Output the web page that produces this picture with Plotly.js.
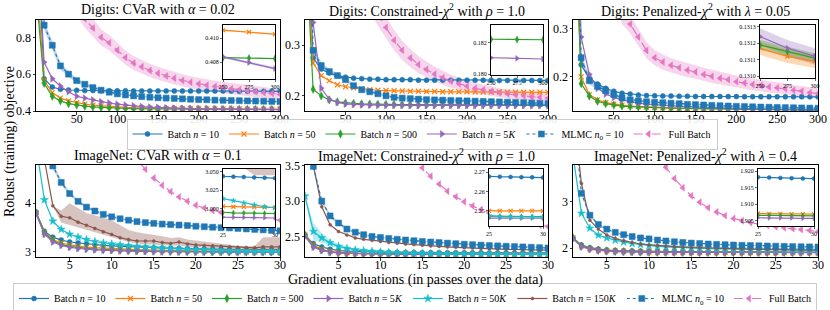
<!DOCTYPE html>
<html><head><meta charset="utf-8">
<script src="https://cdn.plot.ly/plotly-3.0.1.min.js"></script>
<style>html,body{margin:0;padding:0;background:#fff}#chart{width:830px;height:310px}</style>
</head><body><div id="chart"></div>
<script>
// ---------------- DATA ----------------
const digitsX = [1,10,20,30,40,50,60,70,80,90,100,110,120,130,140,150,160,170,180,190,200,210,220,230,240,250,260,270,280,290,300];
const imagenetX = [1,2,3,4,5,6,7,8,9,10,11,12,13,14,15,16,17,18,19,20,21,22,23,24,25,26,27,28,29,30];
const digitsInsetX = [250,275,300];

// Digits: CVaR alpha=0.02
const cvarD_n10 = [1.4,0.575,0.53,0.518,0.514,0.512,0.511,0.511,0.510,0.510,0.510,0.510,0.509,0.509,0.509,0.509,0.509,0.509,0.508,0.508,0.508,0.508,0.508,0.508,0.508,0.507,0.507,0.507,0.507,0.507,0.507];
const cvarD_n50 = [1.1,0.565,0.5,0.47,0.455,0.445,0.437,0.432,0.428,0.425,0.422,0.42,0.418,0.417,0.416,0.415,0.414,0.4135,0.413,0.4125,0.412,0.4117,0.4114,0.4112,0.411,0.4107,0.4105,0.4104,0.4103,0.4102,0.4101];
const cvarD_n500 = [1.0,0.55,0.48,0.455,0.44,0.432,0.426,0.422,0.419,0.417,0.415,0.4138,0.4128,0.412,0.4113,0.4107,0.4102,0.4098,0.4095,0.4092,0.409,0.4088,0.4087,0.4086,0.4085,0.4084,0.4084,0.4083,0.4083,0.4083,0.4082];
const cvarD_n5k = [1.4,0.665,0.575,0.535,0.505,0.48,0.47,0.46,0.45,0.443,0.437,0.432,0.428,0.424,0.421,0.419,0.417,0.415,0.414,0.413,0.412,0.4113,0.4106,0.41,0.4094,0.4088,0.4083,0.4081,0.4079,0.4077,0.4075];
const cvarD_mlmc = [2.0,0.866,0.757,0.645,0.6,0.565,0.545,0.527,0.513,0.502,0.493,0.487,0.482,0.478,0.475,0.472,0.47,0.468,0.466,0.464,0.462,0.461,0.459,0.458,0.457,0.456,0.455,0.454,0.453,0.452,0.451];
const cvarD_mlmcSd = [0.05,0.025,0.022,0.02,0.016,0.013,0.011,0.009,0.008,0.007,0.006,0.006,0.006,0.005,0.005,0.005,0.005,0.005,0.005,0.005,0.005,0.005,0.005,0.005,0.005,0.005,0.005,0.005,0.005,0.005,0.005];
const cvarD_full = [2.0,1.6,1.4,1.22,1.08,0.97,0.9,0.85,0.8,0.77,0.73,0.69,0.66,0.64,0.62,0.605,0.59,0.578,0.566,0.556,0.547,0.54,0.533,0.527,0.521,0.515,0.51,0.505,0.5,0.495,0.49];
const cvarD_fullSd = [0.1,0.08,0.07,0.06,0.055,0.05,0.048,0.046,0.044,0.042,0.04,0.039,0.038,0.037,0.036,0.035,0.034,0.034,0.033,0.033,0.032,0.032,0.031,0.031,0.03,0.03,0.03,0.03,0.03,0.03,0.03];
const cvarDIn_n50 = [0.41067,0.41052,0.41033];
const cvarDIn_n500 = [0.40838,0.40834,0.4083];
const cvarDIn_n5k = [0.40844,0.40797,0.40747];
const cvarDIn_n50Sd = [0.00006,0.00006,0.00006];
const cvarDIn_n500Sd = [0.00004,0.00004,0.00004];
const cvarDIn_n5kSd = [0.00012,0.0001,0.0001];

// Digits: Constrained chi2 rho=1.0
const chiD_n10 = [0.6,0.275,0.253,0.245,0.24,0.237,0.235,0.234,0.233,0.233,0.232,0.232,0.232,0.232,0.231,0.231,0.231,0.231,0.231,0.231,0.231,0.231,0.231,0.231,0.2305,0.2305,0.2305,0.2305,0.2305,0.2305,0.2305];
const chiD_n50 = [0.5,0.265,0.24,0.23,0.222,0.218,0.216,0.214,0.212,0.211,0.2105,0.21,0.2095,0.209,0.209,0.2085,0.2085,0.208,0.208,0.208,0.208,0.2075,0.2075,0.2075,0.2075,0.207,0.207,0.207,0.207,0.207,0.207];
const chiD_n500 = [0.5,0.213,0.2,0.192,0.188,0.186,0.185,0.184,0.1835,0.1832,0.183,0.1828,0.1826,0.1825,0.1824,0.1823,0.1823,0.1822,0.1822,0.1822,0.1822,0.1822,0.1822,0.1822,0.1822,0.1822,0.1822,0.1822,0.1822,0.1822,0.1822];
const chiD_n5k = [0.9,0.345,0.215,0.193,0.187,0.184,0.183,0.1822,0.1818,0.1815,0.1813,0.1812,0.1811,0.181,0.181,0.181,0.181,0.181,0.181,0.181,0.181,0.181,0.181,0.181,0.181,0.181,0.181,0.1809,0.1809,0.1809,0.1809];
const chiD_mlmc = [0.9,0.29,0.26,0.248,0.24,0.232,0.22,0.212,0.208,0.204,0.2,0.197,0.1955,0.1945,0.1935,0.1925,0.192,0.1915,0.191,0.1905,0.19,0.1895,0.189,0.1885,0.188,0.1875,0.187,0.1865,0.186,0.1855,0.185];
const chiD_mlmcSd = [0.02,0.008,0.006,0.005,0.004,0.004,0.003,0.003,0.003,0.003,0.002,0.002,0.002,0.002,0.002,0.002,0.002,0.002,0.002,0.002,0.002,0.002,0.002,0.002,0.002,0.002,0.002,0.002,0.002,0.002,0.002];
const chiD_full = [1.2,0.88,0.77,0.68,0.6,0.54,0.48,0.43,0.39,0.36,0.335,0.31,0.29,0.275,0.262,0.252,0.243,0.236,0.229,0.224,0.219,0.215,0.212,0.209,0.206,0.204,0.202,0.2,0.198,0.197,0.195];
const chiD_fullSd = [0.05,0.04,0.035,0.03,0.028,0.026,0.025,0.024,0.023,0.022,0.021,0.02,0.019,0.018,0.017,0.016,0.015,0.014,0.013,0.012,0.011,0.011,0.01,0.01,0.009,0.009,0.009,0.008,0.008,0.008,0.008];
const chiDIn_n500 = [0.18222,0.1822,0.18219];
const chiDIn_n5k = [0.18104,0.181,0.18096];

// Digits: Penalized chi2 lambda=0.05
const penD_n10 = [0.6,0.225,0.197,0.185,0.176,0.17,0.166,0.164,0.162,0.161,0.1605,0.16,0.16,0.1595,0.1595,0.159,0.159,0.159,0.159,0.1588,0.1588,0.1586,0.1586,0.1585,0.1585,0.1584,0.1584,0.1583,0.1583,0.1582,0.1582];
const penD_n50 = [0.6,0.2,0.163,0.152,0.146,0.143,0.141,0.139,0.138,0.137,0.136,0.1355,0.135,0.1345,0.134,0.1337,0.1334,0.1331,0.1328,0.1326,0.1324,0.1322,0.132,0.1318,0.1316,0.1315,0.1313,0.1312,0.1311,0.131,0.1309];
const penD_n500 = [0.6,0.186,0.16,0.149,0.144,0.141,0.139,0.138,0.137,0.136,0.1355,0.135,0.1345,0.134,0.1337,0.1334,0.1331,0.1328,0.1326,0.1324,0.1322,0.132,0.1318,0.1317,0.1316,0.1315,0.1314,0.1313,0.1312,0.1311,0.1311];
const penD_n5k = [0.8,0.283,0.205,0.176,0.164,0.157,0.152,0.148,0.145,0.143,0.1415,0.1405,0.1395,0.1385,0.1378,0.137,0.1363,0.1357,0.1351,0.1346,0.1341,0.1337,0.1333,0.133,0.1327,0.1324,0.1322,0.1319,0.1316,0.1314,0.1312];
const penD_mlmc = [0.8,0.24,0.192,0.18,0.171,0.163,0.156,0.152,0.15,0.148,0.147,0.146,0.145,0.144,0.1425,0.142,0.1413,0.1405,0.1398,0.1391,0.1385,0.138,0.1375,0.137,0.1366,0.1362,0.1358,0.1355,0.1351,0.1348,0.1345];
const penD_mlmcSd = [0.02,0.01,0.008,0.006,0.005,0.004,0.004,0.003,0.003,0.002,0.002,0.002,0.002,0.002,0.002,0.002,0.002,0.002,0.002,0.002,0.002,0.002,0.002,0.002,0.002,0.002,0.002,0.002,0.002,0.002,0.002];
const penD_full = [1.0,0.8,0.65,0.53,0.44,0.38,0.33,0.31,0.283,0.255,0.24,0.231,0.224,0.219,0.214,0.21,0.205,0.201,0.197,0.194,0.19,0.187,0.184,0.182,0.179,0.177,0.175,0.172,0.17,0.167,0.165];
const penD_fullSd = [0.05,0.04,0.035,0.03,0.025,0.022,0.02,0.019,0.018,0.017,0.016,0.016,0.015,0.015,0.015,0.014,0.014,0.014,0.013,0.013,0.013,0.012,0.012,0.012,0.012,0.011,0.011,0.011,0.011,0.011,0.011];
const penDIn_n50 = [0.13117,0.13112,0.13109];
const penDIn_n500 = [0.13119,0.13115,0.13111];
const penDIn_n5k = [0.13124,0.13117,0.13112];
const penDIn_n50Sd = [0.00004,0.00004,0.00004];
const penDIn_n500Sd = [0.00003,0.00003,0.00003];
const penDIn_n5kSd = [0.00005,0.00005,0.00005];

// ImageNet: CVaR alpha=0.1
const cvarI_n10 = [3.82,3.42,3.3,3.24,3.2,3.18,3.16,3.145,3.13,3.12,3.11,3.1,3.093,3.087,3.081,3.076,3.071,3.067,3.062,3.058,3.055,3.052,3.049,3.046,3.0435,3.043,3.0425,3.042,3.0415,3.041];
const cvarI_n50 = [3.8,3.4,3.25,3.18,3.14,3.11,3.095,3.082,3.072,3.064,3.057,3.05,3.044,3.039,3.034,3.03,3.026,3.022,3.019,3.016,3.013,3.011,3.009,3.006,3.0035,3.003,3.0028,3.0025,3.0022,3.002];
const cvarI_n500 = [3.8,3.38,3.23,3.15,3.11,3.085,3.068,3.055,3.045,3.037,3.03,3.025,3.02,3.016,3.012,3.009,3.006,3.004,3.002,3.0,2.999,2.998,2.997,2.996,2.995,2.9948,2.9946,2.9944,2.9942,2.994];
const cvarI_n5k = [3.78,3.36,3.2,3.13,3.09,3.066,3.05,3.038,3.029,3.022,3.016,3.011,3.007,3.004,3.001,2.999,2.997,2.995,2.994,2.993,2.992,2.991,2.99,2.99,2.989,2.9888,2.9886,2.9884,2.9882,2.988];
const cvarI_n50k = [5.2,4.07,3.63,3.46,3.36,3.3,3.25,3.21,3.18,3.16,3.14,3.125,3.11,3.097,3.085,3.074,3.064,3.055,3.047,3.04,3.034,3.028,3.023,3.018,3.0137,3.011,3.008,3.0055,3.003,3.0013];
const cvarI_n150k = [6.0,4.9,3.95,3.73,3.7,3.61,3.545,3.48,3.41,3.355,3.29,3.25,3.22,3.22,3.22,3.19,3.17,3.2,3.16,3.14,3.13,3.12,3.11,3.1,3.09,3.085,3.08,3.1,3.1,3.1];
const cvarI_n150kLo = [6.0,4.9,3.95,3.6,3.55,3.5,3.45,3.4,3.35,3.3,3.25,3.2,3.17,3.15,3.15,3.13,3.12,3.13,3.1,3.09,3.08,3.07,3.06,3.055,3.06,3.06,3.055,3.045,3.045,3.045];
const cvarI_n150kHi = [6.0,4.9,3.95,3.85,4.0,3.9,3.8,3.75,3.7,3.65,3.55,3.45,3.4,3.38,3.35,3.32,3.28,3.3,3.25,3.22,3.2,3.18,3.16,3.14,3.12,3.11,3.12,3.3,3.3,3.3];
const cvarI_mlmc = [6.5,5.3,4.77,4.43,4.2,4.04,3.92,3.84,3.77,3.72,3.68,3.65,3.62,3.6,3.585,3.57,3.56,3.55,3.54,3.525,3.515,3.505,3.495,3.49,3.48,3.47,3.46,3.45,3.44,3.43];
const cvarI_mlmcSd = [0.1,0.08,0.06,0.05,0.04,0.035,0.03,0.03,0.025,0.025,0.02,0.02,0.02,0.02,0.02,0.02,0.02,0.02,0.02,0.02,0.02,0.02,0.02,0.02,0.02,0.02,0.02,0.02,0.02,0.02];
const cvarI_full = [9.5,9.0,8.5,8.0,7.5,7.0,6.6,6.2,5.85,5.55,5.3,5.08,4.88,4.7,4.52,4.37,4.24,4.13,4.04,3.96,3.9,3.85,3.81,3.78,3.75,3.73,3.71,3.69,3.67,3.65];

// ImageNet: Constrained chi2 rho=1.0
const chiI_n10 = [2.52,2.4,2.35,2.32,2.3,2.292,2.286,2.282,2.279,2.277,2.275,2.274,2.273,2.272,2.271,2.2705,2.27,2.2697,2.2694,2.2691,2.2688,2.2685,2.2682,2.268,2.2677,2.2676,2.2675,2.2674,2.2673,2.2672];
const chiI_n50 = [2.52,2.38,2.32,2.29,2.278,2.27,2.265,2.262,2.26,2.258,2.2565,2.2555,2.2545,2.2538,2.2532,2.2527,2.2522,2.2518,2.2514,2.251,2.2507,2.2505,2.2503,2.2502,2.25,2.25,2.25,2.25,2.25,2.25];
const chiI_n500 = [2.52,2.36,2.31,2.28,2.27,2.263,2.259,2.256,2.254,2.2525,2.2515,2.2507,2.25,2.2495,2.249,2.2487,2.2484,2.2482,2.248,2.2478,2.2476,2.2475,2.2474,2.2473,2.2472,2.2472,2.2472,2.2471,2.2471,2.2471];
const chiI_n5k = [2.5,2.35,2.3,2.278,2.266,2.26,2.256,2.253,2.251,2.2495,2.2487,2.248,2.2476,2.2473,2.247,2.2468,2.2467,2.2466,2.2465,2.2464,2.2464,2.2463,2.2463,2.2463,2.2462,2.2462,2.2462,2.2462,2.2462,2.2462];
const chiI_n50k = [3.07,2.57,2.48,2.41,2.36,2.33,2.31,2.3,2.29,2.282,2.276,2.271,2.267,2.264,2.261,2.259,2.257,2.2555,2.254,2.253,2.252,2.251,2.25,2.249,2.2475,2.247,2.2469,2.2468,2.2468,2.2468];
const chiI_n50kSd = [0.02,0.12,0.07,0.04,0.03,0.02,0.015,0.01,0.008,0.006,0.003,0.003,0.003,0.003,0.003,0.003,0.003,0.003,0.003,0.003,0.003,0.003,0.003,0.003,0.003,0.003,0.003,0.003,0.003,0.003];
const chiI_n150k = [5.0,3.5,2.92,2.665,2.57,2.52,2.48,2.46,2.445,2.43,2.415,2.405,2.395,2.385,2.375,2.367,2.36,2.353,2.347,2.341,2.336,2.331,2.327,2.323,2.319,2.316,2.313,2.31,2.308,2.306];
const chiI_mlmc = [5.0,3.49,3.0,2.79,2.69,2.605,2.56,2.525,2.5,2.486,2.472,2.46,2.45,2.44,2.43,2.422,2.414,2.406,2.398,2.39,2.384,2.378,2.372,2.367,2.362,2.357,2.352,2.347,2.342,2.337];
const chiI_mlmcSd = [0.05,0.04,0.03,0.025,0.02,0.02,0.015,0.015,0.012,0.012,0.01,0.01,0.01,0.01,0.01,0.01,0.01,0.01,0.01,0.01,0.01,0.01,0.01,0.01,0.01,0.01,0.01,0.01,0.01,0.01];
const chiI_full = [10,9,8.2,7.5,6.9,6.3,5.8,5.35,4.95,4.6,4.3,4.05,3.82,3.63,3.47,3.35,3.24,3.14,3.06,2.99,2.93,2.88,2.83,2.79,2.76,2.73,2.7,2.68,2.66,2.64];

// ImageNet: Penalized chi2 lambda=0.4
const penI_n10 = [2.22,2.07,2.01,1.98,1.96,1.95,1.943,1.938,1.935,1.932,1.93,1.928,1.926,1.925,1.924,1.923,1.922,1.921,1.9205,1.92,1.9195,1.919,1.9187,1.9184,1.9182,1.9181,1.918,1.9179,1.9178,1.9178];
const penI_n50 = [2.22,2.05,1.99,1.96,1.945,1.936,1.93,1.925,1.921,1.918,1.916,1.914,1.9125,1.9115,1.9105,1.91,1.9095,1.909,1.9085,1.908,1.9077,1.9075,1.9073,1.9072,1.9072,1.9071,1.9071,1.907,1.907,1.907];
const penI_n500 = [2.22,2.04,1.985,1.955,1.94,1.931,1.925,1.92,1.917,1.914,1.912,1.9105,1.9095,1.9088,1.9082,1.9078,1.9075,1.9072,1.907,1.9069,1.9068,1.9067,1.9067,1.9066,1.9066,1.9066,1.9066,1.9065,1.9065,1.9065];
const penI_n5k = [2.2,2.03,1.98,1.95,1.935,1.926,1.92,1.916,1.913,1.911,1.9095,1.9085,1.9077,1.9072,1.9068,1.9065,1.9063,1.9062,1.9061,1.906,1.906,1.9059,1.9059,1.9059,1.9059,1.9058,1.9058,1.9058,1.9057,1.9057];
const penI_n50k = [4.0,2.75,2.43,2.28,2.22,2.17,2.13,2.1,2.075,2.055,2.04,2.028,2.018,2.01,2.003,1.997,1.992,1.987,1.983,1.979,1.976,1.973,1.97,1.967,1.965,1.962,1.96,1.958,1.956,1.954];
const penI_n150k = [5.0,3.39,2.6,2.41,2.285,2.21,2.16,2.12,2.09,2.07,2.055,2.042,2.031,2.022,2.014,2.007,2.001,1.996,1.991,1.987,1.983,1.979,1.976,1.973,1.97,1.967,1.965,1.962,1.96,1.958];
const penI_mlmc = [5.0,3.18,2.71,2.51,2.41,2.34,2.29,2.25,2.22,2.2,2.175,2.155,2.138,2.123,2.11,2.1,2.09,2.082,2.075,2.068,2.062,2.057,2.052,2.047,2.043,2.039,2.035,2.031,2.028,2.025];
const penI_mlmcSd = [0.05,0.04,0.03,0.025,0.02,0.02,0.015,0.015,0.012,0.012,0.01,0.01,0.01,0.01,0.01,0.01,0.01,0.01,0.01,0.01,0.01,0.01,0.01,0.01,0.01,0.01,0.01,0.01,0.01,0.01];
const penI_full = [10,9,8,7.2,6.5,5.9,5.35,4.9,4.5,4.2,3.95,3.74,3.5,3.3,3.13,2.99,2.87,2.78,2.7,2.64,2.59,2.55,2.52,2.49,2.46,2.44,2.42,2.4,2.38,2.36];

const seriesNames = {
  n10: 'Batch <i>n</i> = 10', n50: 'Batch <i>n</i> = 50', n500: 'Batch <i>n</i> = 500',
  n5k: 'Batch <i>n</i> = 5<i>K</i>', n50k: 'Batch <i>n</i> = 50<i>K</i>', n150k: 'Batch <i>n</i> = 150<i>K</i>',
  mlmc: 'MLMC <i>n</i><sub>0</sub> = 10', full: 'Full Batch'
};
const panelTitles = [
  'Digits: CVaR with <i>α</i> = 0.02',
  'Digits: Constrained-<i>χ</i><sup>2</sup> with <i>ρ</i> = 1.0',
  'Digits: Penalized-<i>χ</i><sup>2</sup> with <i>λ</i> = 0.05',
  'ImageNet: CVaR with <i>α</i> = 0.1',
  'ImageNet: Constrained-<i>χ</i><sup>2</sup> with <i>ρ</i> = 1.0',
  'ImageNet: Penalized-<i>χ</i><sup>2</sup> with <i>λ</i> = 0.4'
];

// ---------------- STYLE ----------------
const FONT = 'Liberation Serif, Times New Roman, serif';
const STY = {
  n10:  {color:'#1f77b4', symbol:'circle', size:5, dash:'solid'},
  n50:  {color:'#ff7f0e', symbol:'x-thin', size:5, dash:'solid'},
  n500: {color:'#2ca02c', symbol:'diamond-tall', size:6, dash:'solid'},
  n5k:  {color:'#9467bd', symbol:'triangle-right', size:6, dash:'solid'},
  n50k: {color:'#17becf', symbol:'star', size:6, dash:'solid'},
  n150k:{color:'#8c564b', symbol:'circle', size:3, dash:'solid'},
  mlmc: {color:'#1f77b4', symbol:'square', size:6, dash:'dot'},
  full: {color:'#e377c2', symbol:'triangle-left', size:6, dash:'dash'}
};
function rgba(hex, a){const n=parseInt(hex.slice(1),16);return `rgba(${n>>16},${(n>>8)&255},${n&255},${a})`;}
const traces = [];
function axn(i){return i===1?['x','y']:['x'+i,'y'+i];}
function addLine(i, x, y, key, legend, msize){
  const s = STY[key]; const [xa,ya] = axn(i);
  const thin = s.symbol==='x-thin';
  traces.push({type:'scatter', mode:'lines+markers', x:x, y:y, xaxis:xa, yaxis:ya,
    name: seriesNames[key], legend: legend||'legend', showlegend: !!legend,
    line:{color:s.color, width:1.2, dash:s.dash},
    marker:{symbol:s.symbol, size: msize||s.size, color:s.color, line:{color:s.color, width: thin?1.2:0.5}}});
}
function addBand(i, x, lo, hi, color, a){
  const [xa,ya] = axn(i);
  traces.push({type:'scatter', mode:'lines', x:x.concat(x.slice().reverse()), y:lo.concat(hi.slice().reverse()),
    xaxis:xa, yaxis:ya, fill:'toself', fillcolor:rgba(color,a), line:{width:0}, showlegend:false, hoverinfo:'skip'});
}
function bandSd(i, x, y, sd, color, a){
  addBand(i, x, y.map((v,k)=>v-sd[k]), y.map((v,k)=>v+sd[k]), color, a);
}

// Panel 1
bandSd(1, digitsX, cvarD_mlmc, cvarD_mlmcSd, '#1f77b4', 0.3);
bandSd(1, digitsX, cvarD_full, cvarD_fullSd, '#e377c2', 0.3);
addLine(1, digitsX, cvarD_n10, 'n10', 'legend');
addLine(1, digitsX, cvarD_n50, 'n50', 'legend');
addLine(1, digitsX, cvarD_n500, 'n500', 'legend');
addLine(1, digitsX, cvarD_n5k, 'n5k', 'legend');
addLine(1, digitsX, cvarD_mlmc, 'mlmc', 'legend');
addLine(1, digitsX, cvarD_full, 'full', 'legend');
// Panel 2
bandSd(2, digitsX, chiD_mlmc, chiD_mlmcSd, '#1f77b4', 0.3);
bandSd(2, digitsX, chiD_full, chiD_fullSd, '#e377c2', 0.3);
addLine(2, digitsX, chiD_n10, 'n10');
addLine(2, digitsX, chiD_n50, 'n50');
addLine(2, digitsX, chiD_n500, 'n500');
addLine(2, digitsX, chiD_n5k, 'n5k');
addLine(2, digitsX, chiD_mlmc, 'mlmc');
addLine(2, digitsX, chiD_full, 'full');
// Panel 3
bandSd(3, digitsX, penD_mlmc, penD_mlmcSd, '#1f77b4', 0.3);
bandSd(3, digitsX, penD_full, penD_fullSd, '#e377c2', 0.3);
addLine(3, digitsX, penD_n10, 'n10');
addLine(3, digitsX, penD_n50, 'n50');
addLine(3, digitsX, penD_n500, 'n500');
addLine(3, digitsX, penD_n5k, 'n5k');
addLine(3, digitsX, penD_mlmc, 'mlmc');
addLine(3, digitsX, penD_full, 'full');
// Panel 4
bandSd(4, imagenetX, cvarI_mlmc, cvarI_mlmcSd, '#1f77b4', 0.3);
addBand(4, imagenetX, cvarI_n150kLo, cvarI_n150kHi, '#8c564b', 0.35);
addLine(4, imagenetX, cvarI_n10, 'n10', 'legend2');
addLine(4, imagenetX, cvarI_n50, 'n50', 'legend2');
addLine(4, imagenetX, cvarI_n500, 'n500', 'legend2');
addLine(4, imagenetX, cvarI_n5k, 'n5k', 'legend2');
addLine(4, imagenetX, cvarI_n50k, 'n50k', 'legend2');
addLine(4, imagenetX, cvarI_n150k, 'n150k', 'legend2');
addLine(4, imagenetX, cvarI_mlmc, 'mlmc', 'legend2');
addLine(4, imagenetX, cvarI_full, 'full', 'legend2');
// Panel 5
bandSd(5, imagenetX, chiI_mlmc, chiI_mlmcSd, '#1f77b4', 0.3);
bandSd(5, imagenetX, chiI_n50k, chiI_n50kSd, '#17becf', 0.3);
addLine(5, imagenetX, chiI_n10, 'n10');
addLine(5, imagenetX, chiI_n50, 'n50');
addLine(5, imagenetX, chiI_n500, 'n500');
addLine(5, imagenetX, chiI_n5k, 'n5k');
addLine(5, imagenetX, chiI_n50k, 'n50k');
addLine(5, imagenetX, chiI_n150k, 'n150k');
addLine(5, imagenetX, chiI_mlmc, 'mlmc');
addLine(5, imagenetX, chiI_full, 'full');
// Panel 6
bandSd(6, imagenetX, penI_mlmc, penI_mlmcSd, '#1f77b4', 0.3);
addLine(6, imagenetX, penI_n10, 'n10');
addLine(6, imagenetX, penI_n50, 'n50');
addLine(6, imagenetX, penI_n500, 'n500');
addLine(6, imagenetX, penI_n5k, 'n5k');
addLine(6, imagenetX, penI_n50k, 'n50k');
addLine(6, imagenetX, penI_n150k, 'n150k');
addLine(6, imagenetX, penI_mlmc, 'mlmc');
addLine(6, imagenetX, penI_full, 'full');

// Insets (7..12)
bandSd(7, digitsInsetX, cvarDIn_n5k, cvarDIn_n5kSd, '#9467bd', 0.3);
bandSd(7, digitsInsetX, cvarDIn_n50, cvarDIn_n50Sd, '#ff7f0e', 0.3);
bandSd(7, digitsInsetX, cvarDIn_n500, cvarDIn_n500Sd, '#2ca02c', 0.3);
addLine(7, digitsInsetX, cvarDIn_n50, 'n50', null, 4);
addLine(7, digitsInsetX, cvarDIn_n500, 'n500', null, 5);
addLine(7, digitsInsetX, cvarDIn_n5k, 'n5k', null, 5);
addLine(8, digitsInsetX, chiDIn_n500, 'n500', null, 5);
addLine(8, digitsInsetX, chiDIn_n5k, 'n5k', null, 5);
bandSd(9, digitsInsetX, penDIn_n5k, penDIn_n5kSd, '#9467bd', 0.3);
bandSd(9, digitsInsetX, penDIn_n50, penDIn_n50Sd, '#ff7f0e', 0.3);
bandSd(9, digitsInsetX, penDIn_n500, penDIn_n500Sd, '#2ca02c', 0.3);
addLine(9, digitsInsetX, penDIn_n50, 'n50', null, 4);
addLine(9, digitsInsetX, penDIn_n500, 'n500', null, 5);
addLine(9, digitsInsetX, penDIn_n5k, 'n5k', null, 5);
addBand(10, imagenetX, cvarI_n150kLo, cvarI_n150kHi, '#8c564b', 0.35);
[['n10',cvarI_n10],['n50',cvarI_n50],['n500',cvarI_n500],['n5k',cvarI_n5k],['n50k',cvarI_n50k],['n150k',cvarI_n150k],['mlmc',cvarI_mlmc]]
  .forEach(([k,v])=>addLine(10, imagenetX, v, k, null, 4));
[['n10',chiI_n10],['n50',chiI_n50],['n500',chiI_n500],['n5k',chiI_n5k],['n50k',chiI_n50k],['n150k',chiI_n150k],['mlmc',chiI_mlmc]]
  .forEach(([k,v])=>addLine(11, imagenetX, v, k, null, 4));
[['n10',penI_n10],['n50',penI_n50],['n500',penI_n500],['n5k',penI_n5k],['n50k',penI_n50k],['n150k',penI_n150k],['mlmc',penI_mlmc]]
  .forEach(([k,v])=>addLine(12, imagenetX, v, k, null, 4));

// ---------------- LAYOUT ----------------
const W=830, H=310;
const dx = (a,b)=>[a/W, b/W];
const dy = (t,b)=>[1-b/H, 1-t/H];
const baseAx = {showline:true, mirror:true, linecolor:'#000', linewidth:1, ticks:'outside', ticklen:2.5, tickwidth:0.8,
  tickcolor:'#000', showgrid:false, zeroline:false, fixedrange:true, tickfont:{family:FONT, size:12, color:'#000'}};
const insAx = Object.assign({}, baseAx, {ticklen:2, tickwidth:0.6, tickfont:{family:FONT, size:6, color:'#000'}});
const legBase = {xanchor:'center', yanchor:'middle', orientation:'h', font:{family:FONT,size:10,color:'#000'},
    bordercolor:'#cccccc', borderwidth:1, bgcolor:'rgba(255,255,255,0.9)', itemwidth:30, tracegroupgap:0};
const layout = {width:W, height:H, margin:{l:0,r:0,t:0,b:0,autoexpand:false}, paper_bgcolor:'#fff', plot_bgcolor:'#fff',
  font:{family:FONT, color:'#000'}, annotations:[],
  legend:Object.assign({x:422/W, y:1-134/H}, legBase),
  legend2:Object.assign({x:415/W, y:1-298.5/H}, legBase)
};
const colsX = [[36,280],[305,548],[573,818]];
const rowsY = [[20,111],[165,257]];
const mainDefs = [
  {yr:[0.4,0.894], yt:[0.4,0.6,0.8], xr:[0,300], xt:[50,100,150,200,250,300]},
  {yr:[0.17,0.35], yt:[0.2,0.3], xr:[0,300], xt:[50,100,150,200,250,300]},
  {yr:[0.1287,0.3186], yt:[0.2,0.3], xr:[0,300], xt:[50,100,150,200,250,300]},
  {yr:[2.89,4.79], yt:[3,4], xr:[1,30], xt:[5,10,15,20,25,30]},
  {yr:[2.21,3.51], yt:[2.5,3.0,3.5], ytt:['2.5','3.0','3.5'], xr:[1,30], xt:[5,10,15,20,25,30]},
  {yr:[1.81,3.79], yt:[2,3], xr:[1,30], xt:[5,10,15,20,25,30]}
];
mainDefs.forEach((d,k)=>{
  const i=k+1, c=colsX[k%3], r=rowsY[Math.floor(k/3)];
  const xk = i===1?'xaxis':'xaxis'+i, yk = i===1?'yaxis':'yaxis'+i;
  const [xa,ya]=axn(i);
  layout[xk]=Object.assign({}, baseAx, {domain:dx(c[0],c[1]), range:d.xr, tickvals:d.xt, anchor:ya, ticklabelstandoff:-6});
  layout[yk]=Object.assign({}, baseAx, {domain:dy(r[0],r[1]), range:d.yr, tickvals:d.yt, anchor:xa, ticklabelstandoff:-1});
  if(d.ytt) layout[yk].ticktext=d.ytt;
  layout.annotations.push({xref:'paper', yref:'paper', x:(c[0]+c[1])/2/W, y:1-(r[0]-10)/H, xanchor:'center', yanchor:'middle',
    text:panelTitles[k], showarrow:false, font:{family:FONT, size:14, color:'#000'}});
});
const insDefs = [
  {box:[223,275,25,79], xr:[250,300], xt:[250,275,300], yr:[0.4066,0.4111], yt:[0.408,0.410], ytt:['0.408','0.410']},
  {box:[491,543,25,75], xr:[250,300], xt:[250,275,300], yr:[0.17994,0.18313], yt:[0.180,0.182], ytt:['0.180','0.182']},
  {box:[760,815,25,78], xr:[250,300], xt:[250,275,300], yr:[0.13099,0.13131], yt:[0.1310,0.1311,0.1312,0.1313], ytt:['0.1310','0.1311','0.1312','0.1313']},
  {box:[223,275,169,227], xr:[25,30], xt:[25,30], yr:[2.976,3.0532], yt:[3.0,3.025,3.05], ytt:['3.000','3.025','3.050']},
  {box:[489,543,169,226], xr:[25,30], xt:[25,30], yr:[2.2422,2.2716], yt:[2.25,2.26,2.27], ytt:['2.25','2.26','2.27']},
  {box:[758,814,169,226], xr:[25,30], xt:[25,30], yr:[1.9034,1.9207], yt:[1.905,1.91,1.915,1.92], ytt:['1.905','1.910','1.915','1.920']}
];
insDefs.forEach((d,k)=>{
  const i=k+7; const [xa,ya]=axn(i);
  layout['xaxis'+i]=Object.assign({}, insAx, {domain:dx(d.box[0],d.box[1]), range:d.xr, tickvals:d.xt, anchor:ya});
  layout['yaxis'+i]=Object.assign({}, insAx, {domain:dy(d.box[2],d.box[3]), range:d.yr, tickvals:d.yt, ticktext:d.ytt, anchor:xa});
});
layout.annotations.push({xref:'paper', yref:'paper', x:10/W, y:1-142/H, textangle:-90, xanchor:'center', yanchor:'middle',
  text:'Robust (training) objective', showarrow:false, font:{family:FONT, size:14, color:'#000'}});
layout.annotations.push({xref:'paper', yref:'paper', x:415/W, y:1-280/H, xanchor:'center', yanchor:'middle',
  text:'Gradient evaluations (in passes over the data)', showarrow:false, font:{family:FONT, size:14, color:'#000'}});

Plotly.newPlot('chart', traces, layout, {staticPlot:true, displayModeBar:false});
</script></body></html>
